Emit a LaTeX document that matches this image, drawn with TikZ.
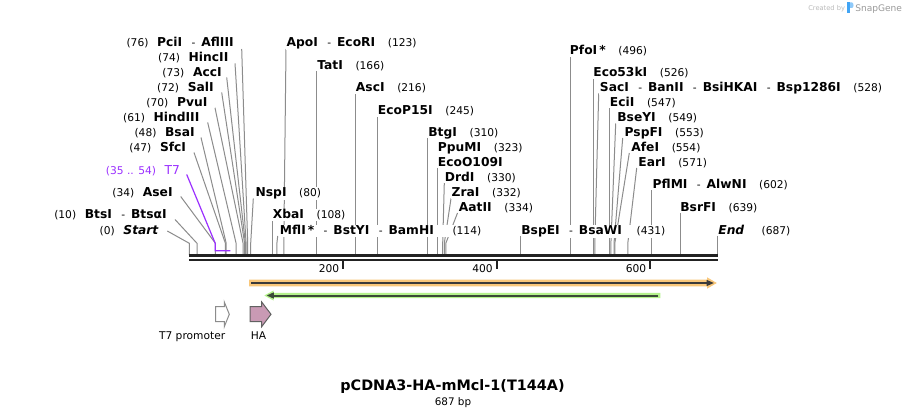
\documentclass[tikz,border=0pt]{standalone}
\usepackage{fontspec}
\setmainfont{DejaVu Sans}
\definecolor{lgray}{HTML}{8C8C8C}
\definecolor{bbc}{HTML}{222222}
\definecolor{tsev}{HTML}{9B30FF}
\definecolor{orfill}{HTML}{F9C77A}
\definecolor{grfill}{HTML}{B5F28C}
\definecolor{arrdark}{HTML}{3A3A3A}
\definecolor{grdark}{HTML}{3B4A37}
\definecolor{hafill}{HTML}{C99AB4}
\definecolor{wmgray}{HTML}{BBBBBB}
\definecolor{wmgraytwo}{HTML}{9A9A9A}
\definecolor{logoblue}{HTML}{42A5F5}
\newcommand\EN[1]{{\fontsize{9.2}{11}\selectfont\bfseries #1}}
\newcommand\EP[1]{{\fontsize{8}{10}\selectfont #1}}
\newcommand\ED{\hspace{7pt}\EP{-}\hspace{4.5pt}}
\newcommand\EG{\hspace{9.5pt}}
\newcommand\EL{\hspace{6.5pt}}
\begin{document}
\begin{tikzpicture}[x=0.75pt,y=-0.75pt,
  enz/.style={draw=lgray,line width=0.75pt},
  lbl/.style={fill=white,inner sep=0.5pt,outer sep=0pt},
  lft/.style={lbl,anchor=base east},
  rgt/.style={lbl,anchor=base west},
  featlbl/.style={inner sep=0pt,anchor=base,font=\fontsize{8}{10}\selectfont}]
\useasboundingbox (0,0) rectangle (907,417);
\fill[white] (0,0) rectangle (907,417);
% site coordinates
\foreach \n/\x in {0/189.3,10/197.0,34/215.4,47/225.4,48/226.2,61/236.1,70/243.1,72/244.6,73/245.4,74/246.1,76/247.7,80/250.7,108/272.2,114/276.9,123/283.8,166/316.8,216/355.2,245/377.5,310/427.4,323/437.4,330/442.7,332/444.3,334/445.8,431/520.3,496/570.2,526/593.3,528/594.8,547/609.4,549/610.9,553/614.0,554/614.8,571/627.8,602/651.6,639/680.1,687/717.1}{
  \coordinate (b\n) at (\x,254.8);
  \coordinate (k\n) at (\x,243.3);
}
% connectors, left labels
\draw[enz] (241.7,49) coordinate (cPciI) -- (k76) -- (b76);
\draw[enz] (235,63.3) coordinate (cHincII) -- (k74) -- (b74);
\draw[enz] (226.7,77.5) coordinate (cAccI) -- (k73) -- (b73);
\draw[enz] (221.7,92.5) coordinate (cSalI) -- (k72) -- (b72);
\draw[enz] (215,107.8) coordinate (cPvuI) -- (k70) -- (b70);
\draw[enz] (207.7,122.5) coordinate (cHindIII) -- (k61) -- (b61);
\draw[enz] (201,137.5) coordinate (cBsaI) -- (k48) -- (b48);
\draw[enz] (194,152.5) coordinate (cSfcI) -- (k47) -- (b47);
\draw[enz] (180.7,196.5) coordinate (cAseI) -- (k34) -- (b34);
\draw[enz] (175,219.5) coordinate (cBtsI) -- (k10) -- (b10);
\draw[enz] (167.3,231) coordinate (cStart) -- (k0) -- (b0);
% connectors, right labels
\draw[enz] (286,49) coordinate (cApoI) -- (k123) -- (b123);
\draw[enz] (316.8,71) coordinate (cTatI) -- (b166);
\draw[enz] (355.2,93.5) coordinate (cAscI) -- (b216);
\draw[enz] (377.5,116) coordinate (cEcoP) -- (b245);
\draw[enz] (427.4,138) coordinate (cBtgI) -- (b310);
\draw[enz] (437.4,168) coordinate (cEcoO) -- (b323);
\draw[enz] (444.3,183) coordinate (cDrdI) -- (k330) -- (b330);
\draw[enz] (451,198.5) coordinate (cZraI) -- (k332) -- (b332);
\draw[enz] (457.5,213) coordinate (cAatII) -- (k334) -- (b334);
\draw[enz] (253.3,198.5) coordinate (cNspI) -- (k80) -- (b80);
\draw[enz] (272.2,220.5) coordinate (cXbaI) -- (b108);
\draw[enz] (277.7,236) coordinate (cMflI) -- (k114) -- (b114);
\draw[enz] (520.3,236) coordinate (cBspEI) -- (b431);
\draw[enz] (570.2,56) coordinate (cPfoI) -- (b496);
\draw[enz] (593.3,78.5) coordinate (cEco53) -- (b526);
\draw[enz] (598.7,93.5) coordinate (cSacI) -- (k528) -- (b528);
\draw[enz] (609.4,108) coordinate (cEciI) -- (b547);
\draw[enz] (615.7,123.5) coordinate (cBseYI) -- (k549) -- (b549);
\draw[enz] (622.7,138) coordinate (cPspFI) -- (k553) -- (b553);
\draw[enz] (629.3,153) coordinate (cAfeI) -- (k554) -- (b554);
\draw[enz] (636.7,168) coordinate (cEarI) -- (k571) -- (b571);
\draw[enz] (651.6,190.5) coordinate (cPflMI) -- (b602);
\draw[enz] (680.1,213) coordinate (cBsrFI) -- (b639);
\draw[enz] (717.1,236) coordinate (cEnd) -- (b687);
% T7 feature mark
\draw[tsev,line width=0.9pt] (186.7,174.5) coordinate (cT7) -- (215.2,243.3) coordinate (kT7) -- (215.2,250.7) coordinate (kT7b) -- (230.3,250.7) coordinate (kT7c);
% backbone
\coordinate (bbL) at (188.8,255.8);
\coordinate (bbR) at (717.9,255.8);
\coordinate (bbL2) at (188.8,259.8);
\coordinate (bbR2) at (717.9,259.8);
\draw[bbc,line width=2.25pt] (bbL) -- (bbR);
\draw[bbc,line width=1.7pt] (bbL2) -- (bbR2);
% ticks
\foreach \x/\t in {342.9/200,496.5/400,650.0/600}{
  \draw[bbc,line width=1.5pt] (\x,259.8) -- (\x,268.5);
  \node[anchor=base east,inner sep=0pt] (tick\t) at (\x-3.5,272.3) {\EP{\t}};
}
% left labels
\node[lft] (lPciI) at (234.3,46.8) {\EP{(76)}\EL\EN{PciI}\ED\EN{AflIII}};
\node[lft] (lHincII) at (229,61.2) {\EP{(74)}\EL\EN{HincII}};
\node[lft] (lAccI) at (222.3,76.8) {\EP{(73)}\EL\EN{AccI}};
\node[lft] (lSalI) at (214.3,91.2) {\EP{(72)}\EL\EN{SalI}};
\node[lft] (lPvuI) at (208,106.2) {\EP{(70)}\EL\EN{PvuI}};
\node[lft] (lHindIII) at (200,121.2) {\EP{(61)}\EL\EN{HindIII}};
\node[lft] (lBsaI) at (195.3,136.2) {\EP{(48)}\EL\EN{BsaI}};
\node[lft] (lSfcI) at (186.7,151.2) {\EP{(47)}\EL\EN{SfcI}};
\node[lft,text=tsev] (lT7) at (180.7,174.5) {\EP{(35 .. 54)}\EL{\fontsize{9.2}{11}\selectfont T7}};
\node[lft] (lAseI) at (173.3,196.8) {\EP{(34)}\EL\EN{AseI}};
\node[lft] (lBtsI) at (167.3,218.8) {\EP{(10)}\EL\EN{BtsI}\ED\EN{BtsαI}};
\node[lft] (lStart) at (159,234.5) {\EP{(0)}\EL\EN{\itshape Start}};
% right labels
\node[rgt] (lApoI) at (286,46.8) {\EN{ApoI}\ED\EN{EcoRI}\EG\EP{(123)}};
\node[rgt] (lTatI) at (316.7,69.5) {\EN{TatI}\EG\EP{(166)}};
\node[rgt] (lAscI) at (355.3,91.8) {\EN{AscI}\EG\EP{(216)}};
\node[rgt] (lEcoP) at (377.3,114.5) {\EN{EcoP15I}\EG\EP{(245)}};
\node[rgt] (lBtgI) at (427.7,136.2) {\EN{BtgI}\EG\EP{(310)}};
\node[rgt] (lPpuMI) at (437.3,151.2) {\EN{PpuMI}\EG\EP{(323)}};
\node[rgt] (lEcoO) at (437.3,166.2) {\EN{EcoO109I}};
\node[rgt] (lDrdI) at (444.3,181.2) {\EN{DrdI}\EG\EP{(330)}};
\node[rgt] (lZraI) at (451,196.8) {\EN{ZraI}\EG\EP{(332)}};
\node[rgt] (lAatII) at (458.3,211.2) {\EN{AatII}\EG\EP{(334)}};
\node[rgt] (lNspI) at (255,196.8) {\EN{NspI}\EG\EP{(80)}};
\node[rgt] (lXbaI) at (272.3,218.8) {\EN{XbaI}\EG\EP{(108)}};
\node[rgt] (lMflI) at (279.3,234.5) {\EN{MflI\,*}\ED\EN{BstYI}\ED\EN{BamHI}\hspace{14pt}\EP{(114)}};
\node[rgt] (lBspEI) at (520.7,234.5) {\EN{BspEI}\ED\EN{BsaWI}\hspace{11pt}\EP{(431)}};
\node[rgt] (lPfoI) at (569.3,54.5) {\EN{PfoI\,*}\EG\EP{(496)}};
\node[rgt] (lEco53) at (592.7,76.8) {\EN{Eco53kI}\EG\EP{(526)}};
\node[rgt] (lSacI) at (599.3,91.8) {\EN{SacI}\ED\EN{BanII}\ED\EN{BsiHKAI}\ED\EN{Bsp1286I}\EG\EP{(528)}};
\node[rgt] (lEciI) at (609.3,106.2) {\EN{EciI}\EG\EP{(547)}};
\node[rgt] (lBseYI) at (616.7,121.8) {\EN{BseYI}\EG\EP{(549)}};
\node[rgt] (lPspFI) at (624,136.2) {\EN{PspFI}\EG\EP{(553)}};
\node[rgt] (lAfeI) at (630.7,151.2) {\EN{AfeI}\EG\EP{(554)}};
\node[rgt] (lEarI) at (637.7,166.2) {\EN{EarI}\EG\EP{(571)}};
\node[rgt] (lPflMI) at (652,188.8) {\EN{PflMI}\ED\EN{AlwNI}\EG\EP{(602)}};
\node[rgt] (lBsrFI) at (679.7,211.2) {\EN{BsrFI}\EG\EP{(639)}};
\node[rgt] (lEnd) at (717.7,234.5) {\EN{\itshape End}\hspace{13pt}\EP{(687)}};
% orange feature arrow
\fill[orfill] (249,279.6) -- (707,279.6) -- (707,277.3) -- (716.8,283) -- (707,288.7) -- (707,286.4) -- (249,286.4) -- cycle;
\draw[arrdark,line width=1.6pt] (251,283) -- (707.5,283);
\fill[arrdark] (706.5,279.8) -- (713.8,283) -- (706.5,286.2) -- cycle;
% green feature arrow
\fill[grfill] (660.3,292.8) -- (273.5,292.8) -- (273.5,290.5) -- (264.3,295.5) -- (273.5,300.5) -- (273.5,298.2) -- (660.3,298.2) -- cycle;
\draw[grdark,line width=1.5pt] (658.3,295.5) -- (272.5,295.5);
\fill[grdark] (273.8,292.3) -- (266.8,295.5) -- (273.8,298.7) -- cycle;
% features
\draw[draw=lgray,fill=white,line width=0.75pt] (215.7,306.7) -- (224.3,306.7) -- (224.3,302) -- (229.3,314.3) -- (224.3,326.7) -- (224.3,321.7) -- (215.7,321.7) -- cycle;
\draw[draw=arrdark!80,fill=hafill,line width=0.75pt] (250,306.7) -- (261.7,306.7) -- (261.7,302) -- (271,314.3) -- (261.7,326.7) -- (261.7,321.7) -- (250,321.7) -- cycle;
\node[featlbl,anchor=base east] (fT7) at (225.5,339.8) {T7 promoter};
\node[featlbl] (fHA) at (258.5,339.5) {HA};
% title
\node[anchor=base,inner sep=0pt] (title) at (452.5,390.5) {\fontsize{10.8}{13}\selectfont\bfseries pCDNA3-HA-mMcl-1(T144A)};
\node[anchor=base,inner sep=0pt] (len) at (453,405.3) {\fontsize{7.8}{9}\selectfont 687 bp};
% watermark
\node[anchor=base west,inner sep=0pt,text=wmgray] (wmA) at (808,10.5) {\fontsize{5}{6}\selectfont Created by};
\fill[logoblue] (847,2.5) rectangle (850,13);
\fill[logoblue!60] (850,2.5) -- (852,2.5) .. controls (854,2.5) and (854,8) .. (852,8) -- (850,8) -- cycle;
\node[anchor=base west,inner sep=0pt,text=wmgraytwo] (wmB) at (855,11.2) {\fontsize{6.8}{8}\selectfont SnapGene};
\end{tikzpicture}
\end{document}
